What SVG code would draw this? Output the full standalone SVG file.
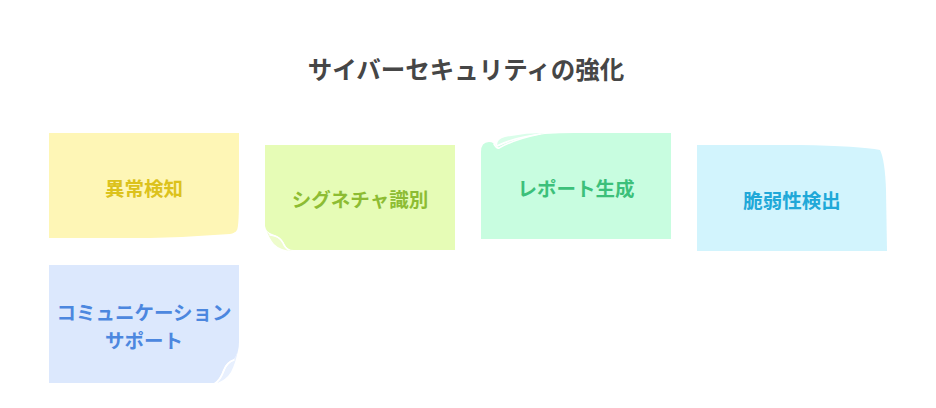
<svg xmlns="http://www.w3.org/2000/svg" width="936" height="408" viewBox="0 0 936 408">
<style>
text{font-family:"Noto Sans CJK JP","Noto Sans",sans-serif;font-weight:bold;text-anchor:middle;dominant-baseline:central}
.t{font-size:19.5px}
.fold{fill:none;stroke:#ffffff;stroke-width:1.6;stroke-linecap:round}
</style>
<rect width="936" height="408" fill="#ffffff"/>
<text x="466" y="68" font-size="24.5" fill="#464646">サイバーセキュリティの強化</text>
<g id="connectors"></g>
<g id="n1">
<path d="M49,133 H239 V195 Q239,226 237,230 Q235,233 230,234 Q190,237 150,238 H49 Z" fill="#fef6b6"/>
<text class="t" x="144" y="187" fill="#dcc21c">異常検知</text>
</g>
<g id="n2">
<path d="M265,145 H455 V250 H294 Q287,250 285,245 Q282,237 272,234 Q266,232 265,226 Z" fill="#e6fcb6"/>
<path d="M266,229 Q268,235 273,236 Q281,238 284,245 Q286,250 292,251 Q280,250 274,244 Q269,238 266,229 Z" fill="#eefccc"/>
<path class="fold" d="M270,235 Q280,236 283,243 Q285,248 289,250"/>
<text class="t" x="360" y="198" fill="#8dbc33">シグネチャ識別</text>
</g>
<g id="n3">
<path d="M481,239 V152 Q481,142 489,142 Q494,142 497,147 Q515,138 545,134 Q560,133 575,133 H671 V239 Z" fill="#c8fde0"/>
<path d="M497,145 Q515,136 545,133 Q525,133 505,137 Q497,139 497,145 Z" fill="#dafeea"/>
<path class="fold" d="M494,144 Q497,149 499,148 Q515,139 540,134"/>
<text class="t" x="576" y="187" fill="#3cc07a">レポート生成</text>
</g>
<g id="n4">
<path d="M697,145 H800 Q860,146 880,150 Q885,160 886,190 L887,251 H697 Z" fill="#d2f4fd"/>
<text class="t" x="792" y="199" fill="#20a8d8">脆弱性検出</text>
</g>
<g id="n5">
<path d="M49,265 H239 V342 Q239,353 234,359 Q226,362 223,370 Q220,379 214,383 H49 Z" fill="#dce8fd"/>
<path d="M238,350 Q236,357 233,361 Q227,364 224,372 Q221,379 217,383 Q226,380 231,372 Q236,362 238,350 Z" fill="#e8f0fe"/>
<path class="fold" d="M234,360 Q227,362 224,370 Q221,379 216,383"/>
<text class="t" fill="#4c87df"><tspan x="144" y="310.5">コミュニケーション</tspan><tspan x="144" y="339">サポート</tspan></text>
</g>
</svg>
